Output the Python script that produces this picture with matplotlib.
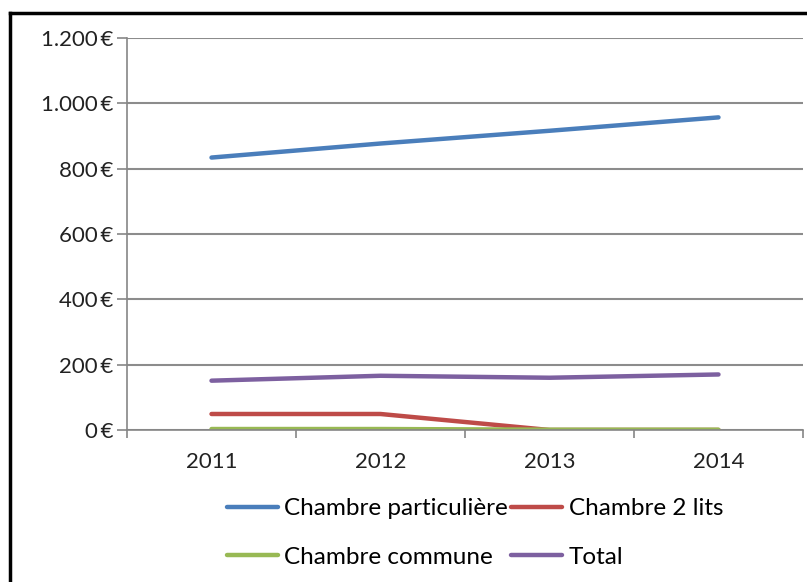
import matplotlib.pyplot as plt
from matplotlib.lines import Line2D
from matplotlib.ticker import FuncFormatter

years = ['2011', '2012', '2013', '2014']
particuliere = [834, 877, 916, 957]
deux_lits = [49, 49, 0, 0]
commune = [3, 3, 1, 1]
total = [151, 166, 160, 170]

plt.rcParams['font.family'] = ['Lato', 'DejaVu Sans']

fig = plt.figure(figsize=(8.07, 5.82), dpi=100)
ax = fig.add_axes([127 / 807, 1 - 430 / 582, (803 - 127) / 807, (430 - 38) / 582])

x = range(len(years))
l1, = ax.plot(x, particuliere, color='#4A7EBB', lw=3.2, label='Chambre particulière', solid_capstyle='round')
l2, = ax.plot(x, deux_lits, color='#BE4B48', lw=3.2, label='Chambre 2 lits', solid_capstyle='round')
l3, = ax.plot(x, commune, color='#98B954', lw=3.2, label='Chambre commune', solid_capstyle='round')
l4, = ax.plot(x, total, color='#7D60A0', lw=3.2, label='Total', solid_capstyle='round')

ax.set_xlim(-0.5, 3.5)
ax.set_ylim(0, 1200)
ax.set_yticks(range(0, 1201, 200))
ax.yaxis.set_major_formatter(FuncFormatter(lambda v, p: '{:,.0f}\u2009€'.format(v).replace(',', '.')))
ax.set_xticks(list(x))
ax.set_xticklabels(years)
ax.set_xticks([-0.5, 0.5, 1.5, 2.5, 3.5], minor=True)
ax.tick_params(axis='x', which='major', length=0, pad=16, labelsize=16, colors='#222222')
ax.tick_params(axis='x', which='minor', length=6, color='#868686', width=1.2)
ax.tick_params(axis='y', length=7, color='#868686', width=1.2, labelsize=16, colors='#222222', pad=3)
ax.grid(axis='y', color='#8c8c8c', lw=1.5)
ax.set_axisbelow(True)
for s in ['top', 'right']:
    ax.spines[s].set_visible(False)
for s in ['left', 'bottom']:
    ax.spines[s].set_color('#868686')
    ax.spines[s].set_linewidth(1.2)

# row-wise order like the original legend
fig.legend([l1, l3, l2, l4], [l.get_label() for l in [l1, l3, l2, l4]],
           loc='center', bbox_to_anchor=(475 / 807, 1 - 533 / 582), ncol=2, frameon=False,
           fontsize=17.5, handlelength=2.1, handletextpad=0.25, columnspacing=0.15, labelspacing=1.15)

# outer chart border
fig.add_artist(Line2D([10 / 807, 10 / 807], [0, 1 - 13 / 582], color='black', lw=2.5))
fig.add_artist(Line2D([10 / 807, 1], [1 - 13 / 582, 1 - 13 / 582], color='black', lw=2.5))

fig.savefig('out.png', dpi=100)
